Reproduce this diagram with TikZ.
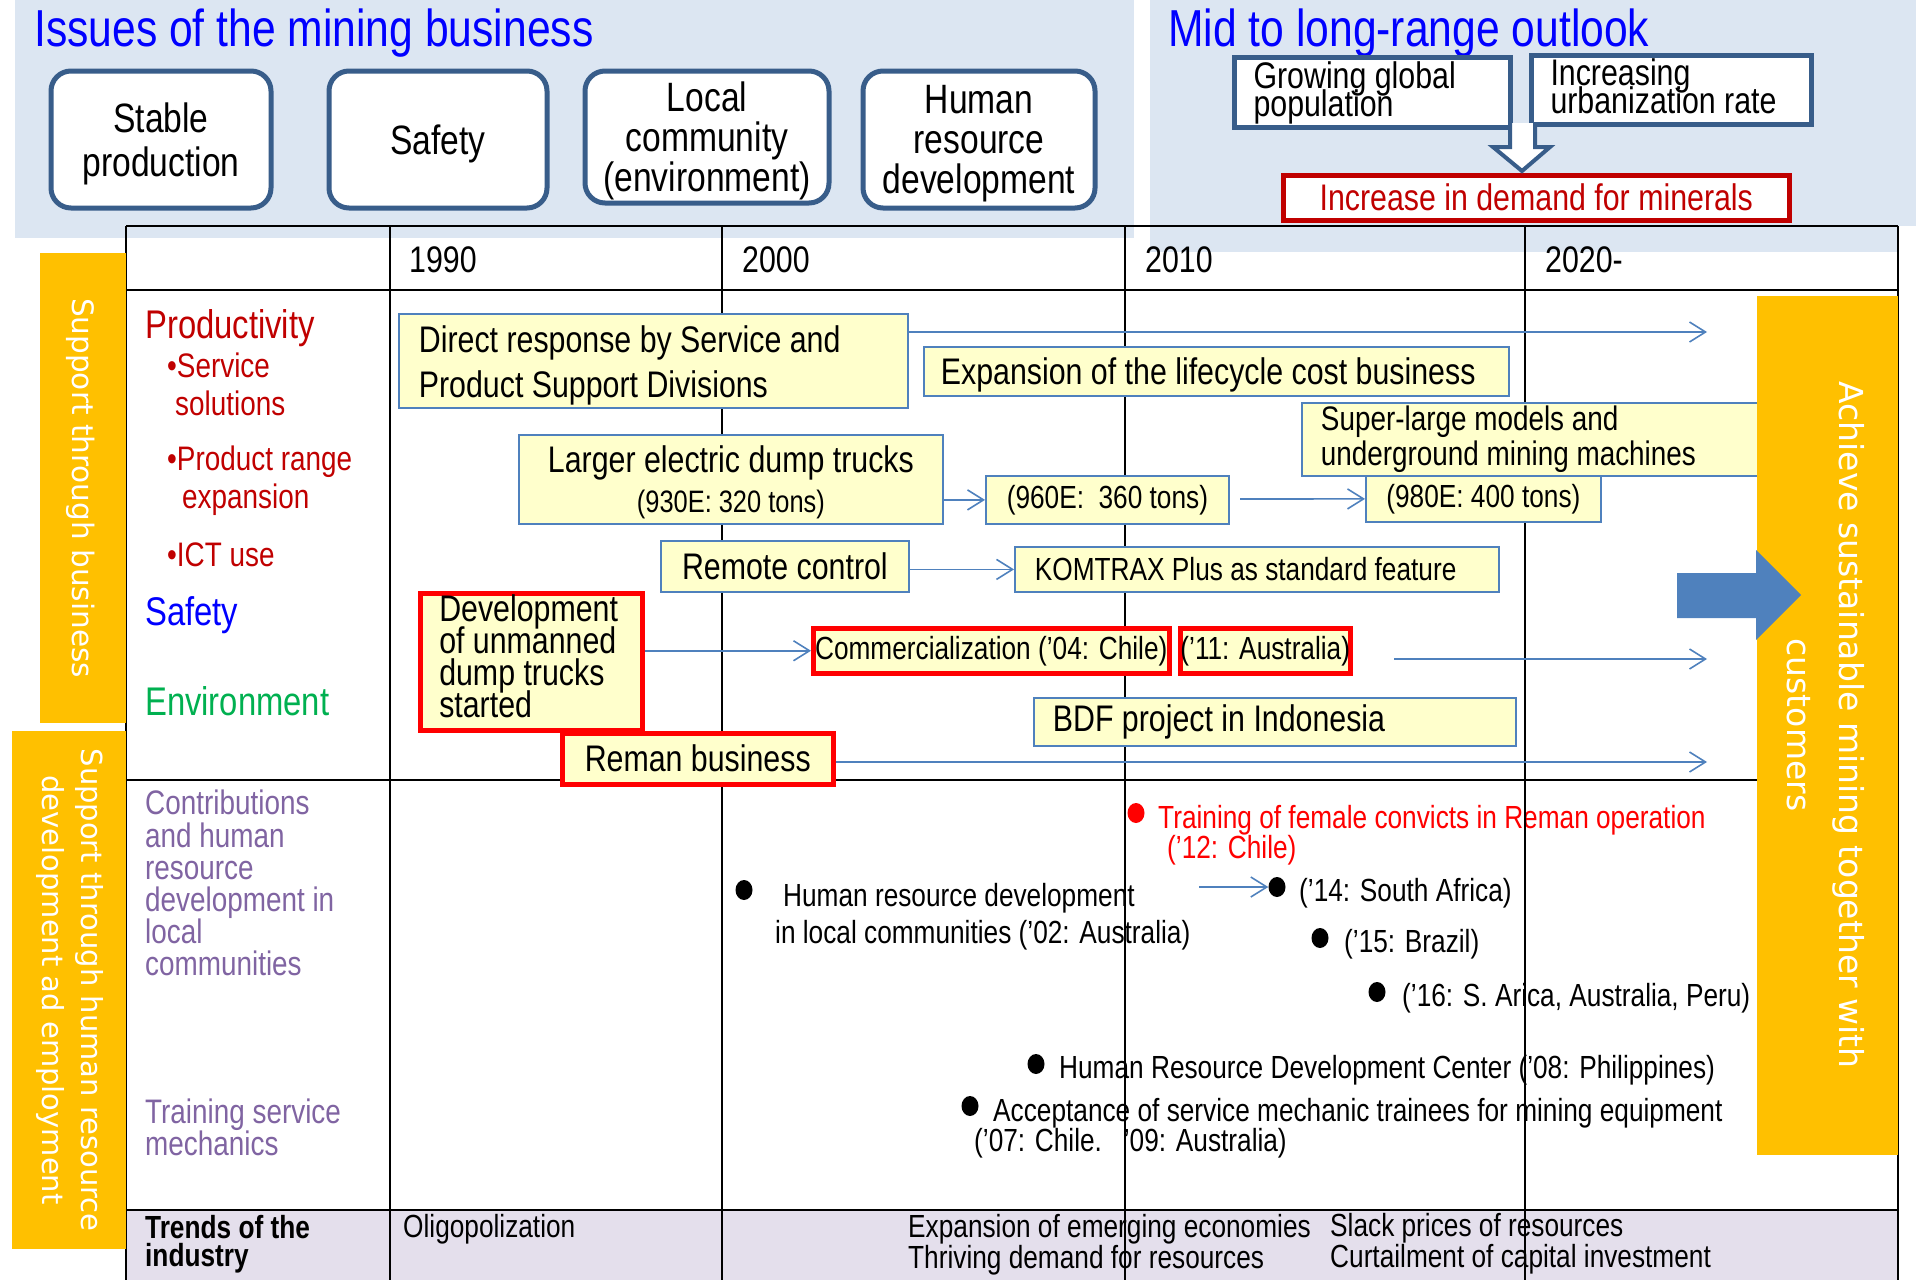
\documentclass[tikz,border=0pt]{standalone}
\usepackage{fontspec}
\setmainfont{Liberation Sans}[FakeStretch=0.82]
\newfontfamily\barfont{DejaVu Sans}
\usetikzlibrary{arrows.meta,calc,shapes.geometric}

\definecolor{panelblue}{HTML}{DCE6F2}
\definecolor{issueblue}{HTML}{385D8A}
\definecolor{barorange}{HTML}{FFC000}
\definecolor{boxfill}{HTML}{FFFFCC}
\definecolor{boxline}{HTML}{4F81BD}
\definecolor{darkred}{HTML}{C00000}
\definecolor{hrpurple}{HTML}{8064A2}
\definecolor{envgreen}{HTML}{00B050}
\definecolor{trendfill}{HTML}{E4DFEC}
\definecolor{titleblue}{HTML}{0000FF}

% font size with an exact line pitch, even when lines are set tighter than the type
\newcommand\fsz[2]{\fontsize{#1}{#2}\selectfont\lineskiplimit=-1000pt\relax}

\begin{document}
\begin{tikzpicture}[x=1pt,y=-1pt,
  issue/.style={draw=issueblue, line width=5pt, rounded corners=20pt, fill=white,
    align=center, inner sep=0pt, text depth=0pt, font=\fsz{41}{40}},
  outlook/.style={draw=issueblue, line width=5pt, fill=white, anchor=north west,
    align=flush left, inner sep=0pt, font=\fsz{37}{28}},
  ybox/.style={draw=boxline, fill=boxfill, line width=1.8pt, anchor=north west,
    inner ysep=0pt, inner xsep=0pt, align=center},
  redbox/.style={ybox, draw=red, line width=4.5pt},
  big/.style={font=\fsz{37}{45}},
  small/.style={font=\fsz{32}{40}},
  label/.style={anchor=base west, inner sep=0pt},
  lowtxt/.style={anchor=base west, inner sep=0pt, font=\fsz{32}{40}},
  dot/.style={ellipse, fill=black, inner sep=0pt, minimum width=17pt, minimum height=20pt},
  flow/.style={draw=boxline, line width=1.6pt, -{Straight Barb[length=16pt,width=20pt,line width=1.6pt]}},
  grid/.style={line width=2.5pt, black},
  bartext/.style={text=white, rotate=-90, align=center, inner sep=0pt}
]
\useasboundingbox (0,0) rectangle (1916,1280);

% ---- header panels ----
\fill[panelblue] (15,0) rectangle (1134,238);
\fill[panelblue] (1150,0) rectangle (1916,226);
\fill[panelblue] (1150,226) rectangle (1898,252);

\node[label, text=titleblue, font=\fsz{52}{60}] (ttl1) at (34,46) {Issues of the mining business};
\node[label, text=titleblue, font=\fsz{52}{60}] (ttl2) at (1168,46) {Mid to long-range outlook};

\node[issue, minimum width=220pt, minimum height=137pt, font=\fsz{41}{44}] (iss1) at (161,139.5) {Stable\\production};
\node[issue, minimum width=218pt, minimum height=137pt] (iss2) at (438,139.5) {Safety};
\node[issue, minimum width=244pt, minimum height=132pt] (iss3) at (707,137) {Local\\community\\(environment)};
\node[issue, minimum width=232pt, minimum height=137pt] (iss4) at (979,139.5) {Human\\resource\\development};

\node[outlook, minimum width=276pt, minimum height=70pt, text width=238pt, inner xsep=19pt] (pop) at (1232,55) {Growing global\\population};
\node[outlook, minimum width=280pt, minimum height=69pt, text width=242pt, inner xsep=19pt, text depth=36pt] (urb) at (1529,53) {Increasing\\urbanization rate};

\node[draw=darkred, line width=4.5pt, fill=white, anchor=north west, minimum width=506pt,
  minimum height=45pt, inner sep=0pt, text=darkred, font=\fsz{37}{40}] (dem) at (1281,173) {Increase in demand for minerals};

% hollow block arrow from the two drivers down to demand
\fill[white] (1510,123) -- (1535,123) -- (1535,147) -- (1550,147) -- (1522,171) -- (1493,147) -- (1510,147) -- cycle;
\draw[issueblue, line width=4pt, line join=miter] (1510,123) -- (1510,147) -- (1493,147) -- (1522,171) -- (1550,147) -- (1535,147) -- (1535,123);

% ---- table background ----
\fill[trendfill] (126,1210) rectangle (1898,1280);

% ---- lower section: human resource items ----
\node[dot, fill=red] (dfem) at (1136,813) {};
\node[lowtxt, text=red] (fem1) at (1158,828) {Training of female convicts in Reman operation};
\node[lowtxt, text=red] (fem2) at (1167,858) {('12: Chile)};

\node[dot] (d02) at (744,890) {};
\node[lowtxt] (hr1) at (783,906) {Human resource development};
\node[lowtxt] (hr2) at (775,943) {in local communities ('02: Australia)};

\node[dot] (d14) at (1277,887) {};
\node[lowtxt] (t14) at (1299,901) {('14: South Africa)};
\node[dot] (d15) at (1320,938) {};
\node[lowtxt] (t15) at (1344,952) {('15: Brazil)};
\node[dot] (d16) at (1377,992) {};
\node[lowtxt] (t16) at (1402,1006) {('16: S. Arica, Australia, Peru)};

\node[dot] (d08) at (1036,1064) {};
\node[lowtxt] (t08) at (1059,1078) {Human Resource Development Center ('08: Philippines)};
\node[dot] (d07) at (970,1106) {};
\node[lowtxt] (t07a) at (993,1121) {Acceptance of service mechanic trainees for mining equipment};
\node[lowtxt] (t07b) at (974,1151) {('07: Chile.~~~'09: Australia)};

\coordinate (hrstart) at (1199,887);
\draw[flow] (hrstart) -- (d14.west);

% ---- trends row ----
\node[lowtxt, font=\bfseries\fsz{32}{40}] (tr1) at (145,1238) {Trends of the};
\node[lowtxt, font=\bfseries\fsz{32}{40}] (tr2) at (145,1266) {industry};
\node[lowtxt] (olig) at (403,1237) {Oligopolization};
\node[lowtxt] (emg1) at (908,1237) {Expansion of emerging economies};
\node[lowtxt] (emg2) at (908,1268) {Thriving demand for resources};
\node[lowtxt] (slk1) at (1330,1236) {Slack prices of resources};
\node[lowtxt] (slk2) at (1330,1267) {Curtailment of capital investment};

% ---- grid ----
\draw[grid] (126,226) -- (1898,226);
\draw[grid] (126,290) -- (1898,290);
\draw[grid] (126,780) -- (1898,780);
\draw[grid] (126,1210) -- (1898,1210);
\foreach \gx in {126,390,722,1125,1525,1898}
  \draw[line width=2.2pt] (\gx,226) -- (\gx,1280);

% ---- year header ----
\foreach \yx/\yl in {409/1990,742/2000,1145/2010,1545/2020-}
  \node[label, font=\fsz{37}{40}] at (\yx,272) {\yl};

% ---- row labels ----
\node[label, text=darkred, font=\fsz{40}{44}] (lprod) at (145,338) {Productivity};
\node[label, text=darkred, font=\fsz{34}{40}] (lsrv1) at (167,377) {•Service};
\node[label, text=darkred, font=\fsz{34}{40}] (lsrv2) at (175,415) {solutions};
\node[label, text=darkred, font=\fsz{34}{40}] (lrng1) at (167,470) {•Product range};
\node[label, text=darkred, font=\fsz{34}{40}] (lrng2) at (182,508) {expansion};
\node[label, text=darkred, font=\fsz{34}{40}] (lict) at (167,566) {•ICT use};
\node[label, text=titleblue, font=\fsz{40}{44}] (lsaf) at (145,625) {Safety};
\node[label, text=envgreen, font=\fsz{40}{44}] (lenv) at (145,715) {Environment};
\node[label, text=hrpurple, font=\fsz{34}{32.2}, align=left, anchor=north west] (lcom) at (145,790)
  {Contributions\\and human\\resource\\development in\\local\\communities};
\node[label, text=hrpurple, font=\fsz{34}{32}, align=left, anchor=north west] (ltrn) at (145,1099)
  {Training service\\mechanics};

% ---- business boxes ----
\node[ybox, big, minimum width=509pt, minimum height=94pt, text width=469pt, inner xsep=20pt, align=flush left, text depth=43pt] (dr) at (398,313)
  {Direct response by Service and\\Product Support Divisions};
\node[ybox, big, minimum width=585pt, minimum height=49pt, text width=551pt, inner xsep=17pt, align=flush left, text depth=0pt] (lc) at (923,346)
  {Expansion of the lifecycle cost business};
\node[ybox, font=\fsz{34}{35}, minimum width=470pt, minimum height=73pt, text width=432pt, inner xsep=19pt, align=flush left] (sl) at (1301,402)
  {Super-large models and\\underground mining machines};
\node[ybox, font=\fsz{37}{40}, minimum width=424pt, minimum height=89pt, text depth=0pt] (lg) at (518,434)
  {Larger electric dump trucks\\{\fsz{31}{40}(930E: 320 tons)}};
\node[ybox, small, minimum width=243pt, minimum height=48pt] (d960) at (985,475) {(960E:\ \ 360 tons)};
\node[ybox, small, minimum width=235pt, minimum height=46pt] (d980) at (1365,475) {(980E: 400 tons)};
\node[ybox, big, minimum width=248pt, minimum height=51pt] (rc) at (660,540) {Remote control};
\node[ybox, small, minimum width=484pt, minimum height=45pt, text width=444pt, inner xsep=20pt, align=flush left] (km) at (1014,546)
  {KOMTRAX Plus as standard feature};
\node[redbox, font=\fsz{37}{32}, minimum width=222pt, minimum height=137pt, text width=184pt, inner xsep=19pt, align=flush left, text depth=108pt] (dev) at (418,591)
  {Development\\of unmanned\\dump trucks\\started};
\node[redbox, small, minimum width=356pt, minimum height=45pt] (comm) at (811,626) {Commercialization ('04: Chile)};
\node[redbox, small, minimum width=170pt, minimum height=45pt] (aus) at (1178,626) {('11: Australia)};
\node[ybox, big, minimum width=482pt, minimum height=48pt, text width=444pt, inner xsep=19pt, align=flush left] (bdf) at (1033,697)
  {BDF project in Indonesia};
\node[redbox, big, minimum width=271pt, minimum height=51pt] (rm) at (560,731) {Reman business};

% ---- flows ----
\coordinate (endA) at (1707,332);
\coordinate (startC) at (1240,499);
\coordinate (startF) at (1394,659);
\coordinate (endF) at (1707,659);
\coordinate (endG) at (1707,762);
\draw[flow] (dr.east |- endA) -- (endA);
\draw[flow] (lg.east |- d960.west) -- (d960.west);
\draw[flow] (startC) -- (d980.west);
\draw[flow] (rc.east |- km.west) -- (km.west);
\draw[flow] (dev.east |- comm.west) -- (comm.west);
\draw[flow] (startF) -- (endF);
\draw[flow] (rm.east |- endG) -- (endG);

% ---- side bars ----
\fill[barorange] (40,253) rectangle (126,723);
\fill[barorange] (12,731) rectangle (126,1249);
\fill[barorange] (1757,296) rectangle (1898,1155);

\node[bartext, font=\barfont\fsz{29.5}{36}] (bar1) at (81,488) {Support through business};
\node[bartext, font=\barfont\fsz{29}{39}] (bar2) at (70,990) {Support through human resource\\development ad employment};

% big arrow into the goal bar
\fill[boxline] (1677,573) -- (1756,573) -- (1756,550) -- (1801,595) -- (1756,640) -- (1756,618) -- (1677,618) -- cycle;

\node[bartext, font=\barfont\fsz{33}{52}] (bar3) at (1826,725) {Achieve sustainable mining together with\\customers};
\end{tikzpicture}
\end{document}
